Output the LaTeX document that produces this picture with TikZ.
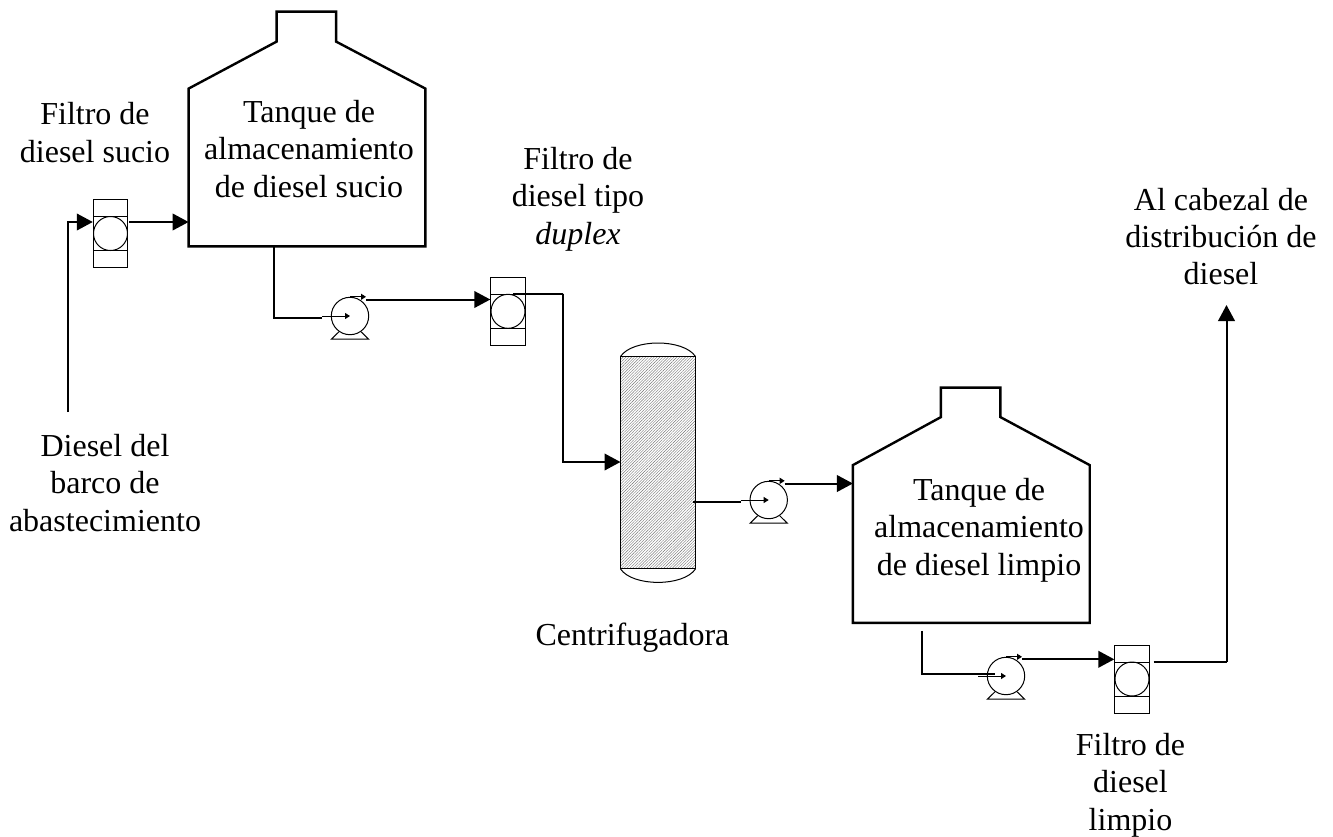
\documentclass[tikz,border=0pt]{standalone}
\usepackage{fontspec}
\setmainfont{Liberation Serif}
\usetikzlibrary{arrows.meta,positioning,patterns.meta}
\tikzset{
    x=0.5pt,y=-0.5pt,
    every node/.style={font=\fontsize{16pt}{18.7pt}\selectfont},
    caption/.style={align=center,inner sep=0pt},
    pipe/.style={line width=1pt,-{Triangle[length=8pt,width=8.3pt]}},
    plainpipe/.style={line width=1pt},
    shaft/.style={line width=0.5pt,-{Triangle[length=2.5pt,width=3pt]}},
    vessel/.style={line width=1.2pt,line join=miter},
    tankbody/.style={minimum width=118pt,minimum height=78.5pt,inner sep=0pt},
    pumpbody/.style={circle,draw,line width=0.5pt,minimum size=18.7pt,inner sep=0pt},
    filterbody/.style={draw,line width=0.5pt,minimum width=17.2pt,minimum height=34pt,inner sep=0pt,
        path picture={
            \draw ([yshift=8.5pt]path picture bounding box.west) -- ([yshift=8.5pt]path picture bounding box.east);
            \draw ([yshift=-8.5pt]path picture bounding box.west) -- ([yshift=-8.5pt]path picture bounding box.east);
            \draw (path picture bounding box.center) circle (8.5pt);
        }}
}
\begin{document}
\begin{tikzpicture}
  \useasboundingbox (0,0) rectangle (1333,836);

  % tanks
  \node[tankbody] (tank1) at (307,167.5) {};
  \draw[vessel] (tank1.south west) -- (tank1.north west) -- ++(88,-47) -- ++(0,-30) -- ++(59.5,0)
    -- ++(0,30) -- (tank1.north east) -- (tank1.south east) -- cycle;
  \node[caption] (tank1txt) at (309,149) {Tanque de\\almacenamiento\\de diesel sucio};

  \node[tankbody] (tank2) at (971.3,544) {};
  \draw[vessel] (tank2.south west) -- (tank2.north west) -- ++(88,-48) -- ++(0,-29.5) -- ++(59.5,0)
    -- ++(0,29.5) -- (tank2.north east) -- (tank2.south east) -- cycle;
  \node[caption] (tank2txt) at (979,530) {Tanque de\\almacenamiento\\de diesel limpio};

  % filters
  \node[filterbody] (filter1) at (110.5,233.5) {};
  \node[filterbody] (filter2) at (508,311.3) {};
  \node[filterbody] (filter3) at (1132,679) {};

  % pumps
  \node[pumpbody] (pump1) at (350,316) {};
  \node[pumpbody] (pump2) at (768.7,500) {};
  \node[pumpbody] (pump3) at (1006,676) {};
  \foreach \p in {pump1,pump2,pump3} {
    \draw[line width=0.5pt] (\p.-125) -- ([xshift=-9.3pt,yshift=-2pt]\p.south) -- ([xshift=9.3pt,yshift=-2pt]\p.south) -- (\p.-55);
    \coordinate (\p in) at ([xshift=-14pt]\p.center);
    \draw[shaft] (\p in) -- (\p.center);
    \draw[shaft] (\p.north) -- ++(16,0);
  }

  % centrifuge
  \node[minimum width=37.3pt,minimum height=106pt,inner sep=0pt,draw,line width=0.5pt,
    pattern={Lines[angle=45,distance=1pt,line width=0.2pt]},pattern color=black!55] (centrif) at (658,462.7) {};
  \draw[line width=0.5pt] (centrif.north west) .. controls ++(12,-18) and ++(-12,-18) .. (centrif.north east);
  \draw[line width=0.5pt] (centrif.south west) .. controls ++(12,18) and ++(-12,18) .. (centrif.south east);

  % free ends
  \coordinate (supply) at (68,412);
  \coordinate (out) at (1226.5,305);
  \coordinate (bend1) at (563,294);
  \coordinate (bend2) at (1226.5,662);

  % connectors
  \draw[pipe] (supply) |- (filter1.west |- 0,222);
  \draw[pipe] (filter1.east |- 0,222) ++(1,0) -- (tank1.west |- 0,222);
  \draw[plainpipe] (tank1.south -| 274,0) |- (pump1in |- 0,318);
  \draw[pipe] ([xshift=8pt]pump1.north |- 0,299.5) -- (filter2.west |- 0,299.5);
  \draw[pipe] ([xshift=2.5pt,yshift=8.5pt]filter2.center) -| (bend1) |- (centrif.west |- 0,462);
  \draw[plainpipe] (centrif.east |- 0,502) ++(-3,0) -- (pump2in |- 0,502);
  \draw[pipe] ([xshift=8pt]pump2.north |- 0,483.5) -- (tank2.west |- 0,483.5);
  \draw[plainpipe] (tank2.south -| 922,0) ++(0,8) |- ([xshift=-5.5pt,yshift=1pt]pump3.center);
  \draw[pipe] ([xshift=8pt]pump3.north |- 0,659.3) -- (filter3.west |- 0,659.3);
  \draw[plainpipe] (filter3.east |- 0,662) ++(4,0) -- (bend2);
  \draw[pipe] (bend2) -- (out);

  % captions
  \node[caption] (capfilter1) at (95,132.5) {Filtro de\\diesel sucio};
  \node[caption] (capsupply) at (105,483) {Diesel del\\barco de\\abastecimiento};
  \node[caption] (capfilter2) at (578,199) {Filtro de\\diesel tipo\\\textit{duplex}};
  \node[caption] (capout) at (1221,236.5) {Al cabezal de\\distribución de\\diesel};
  \node[caption] (capcentrif) at (632.5,638) {Centrifugadora};
  \node[caption] (capfilter3) at (1130.5,785) {Filtro de\\diesel\\limpio};
\end{tikzpicture}
\end{document}
